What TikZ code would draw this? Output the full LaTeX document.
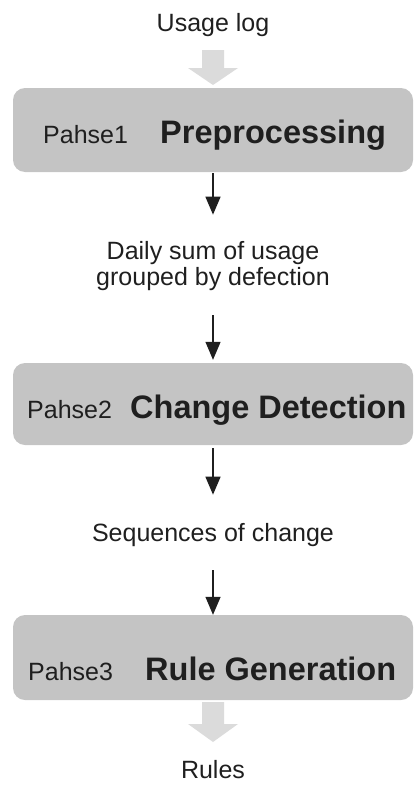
\documentclass[tikz,border=0pt]{standalone}
\usepackage{fontspec}
\setmainfont{Liberation Sans}
\usepackage{tikz}
\usetikzlibrary{arrows.meta}
\usepackage{xcolor}
\definecolor{boxgray}{gray}{0.77}
\definecolor{fatgray}{gray}{0.86}
\definecolor{ink}{gray}{0.12}

\begin{document}
\begin{tikzpicture}[x=1pt,y=-1pt,>={Triangle[length=18pt,width=15pt]},
  phasebox/.style={fill=boxgray,rounded corners=12pt,minimum width=400pt,inner sep=0pt},
  phasenum/.style={anchor=base west,inner sep=0pt,text=ink,font=\fontsize{25}{29}\selectfont},
  phasename/.style={anchor=base west,inner sep=0pt,text=ink,font=\fontsize{32.5}{38}\selectfont\bfseries},
  datatext/.style={anchor=base,inner sep=0pt,align=center,text=ink,font=\fontsize{25}{26}\selectfont},
  flow/.style={->,line width=1.4pt,draw=ink},
  fatarrow/.style={fill=fatgray}]
\useasboundingbox (0,0) rectangle (417,787);
% data and phases, top to bottom
\node[datatext] (log) at (213,31) {Usage log};
\node[phasebox,minimum height=84pt] (p1) at (213,130) {};
\node[phasenum] (p1num) at (43,143) {Pahse1};
\node[phasename] (p1name) at (160,143) {Preprocessing};
\node[datatext] (daily) at (213,285) {Daily sum of usage\\grouped by defection};
\node[phasebox,minimum height=82pt] (p2) at (213,404) {};
\node[phasenum] (p2num) at (27,418) {Pahse2};
\node[phasename] (p2name) at (130,418) {Change Detection};
\node[datatext] (seq) at (213,541) {Sequences of change};
\node[phasebox,minimum height=85pt] (p3) at (213,657.5) {};
\node[phasenum] (p3num) at (28,680) {Pahse3};
\node[phasename] (p3name) at (145,680) {Rule Generation};
\node[datatext] (rules) at (213,778) {Rules};
% thin arrows
\draw[flow,shorten <=1pt,shorten >=26pt] (p1) -- (daily);
\draw[flow,shorten <=25pt,shorten >=3pt] (daily) -- (p2);
\draw[flow,shorten <=3pt,shorten >=28pt] (p2) -- (seq);
\draw[flow,shorten <=24pt] (seq) -- (p3);
% wide gray arrows in and out
\coordinate (inarr) at (213,50);
\coordinate (outarr) at (213,702);
\fill[fatarrow] (inarr) ++(-11,0) -- ++(22,0) -- ++(0,18) -- ++(14,0) -- ++(-25,17) -- ++(-25,-17) -- ++(14,0) -- cycle;
\fill[fatarrow] (outarr) ++(-11,0) -- ++(22,0) -- ++(0,22) -- ++(14,0) -- ++(-25,18) -- ++(-25,-18) -- ++(14,0) -- cycle;
\end{tikzpicture}
\end{document}
